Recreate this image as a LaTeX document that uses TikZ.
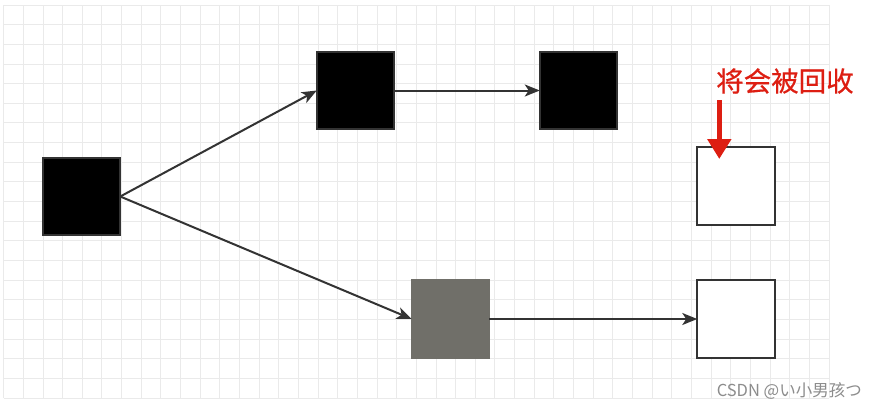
\documentclass[tikz,border=0pt]{standalone}
\usepackage{fontspec}
\newfontfamily\cjk{Noto Sans CJK SC}
\newfontfamily\cjkmed[FakeBold=0.6]{Noto Sans CJK SC}
\usetikzlibrary{arrows.meta}
\definecolor{gridc}{RGB}{234,234,234}
\definecolor{edgec}{RGB}{51,51,51}
\definecolor{greyfill}{RGB}{112,111,105}
\definecolor{redc}{RGB}{221,30,18}
\definecolor{wmc}{RGB}{140,140,140}
\tikzset{
  box/.style={draw=edgec, line width=2pt, minimum size=77.5pt, inner sep=0pt, outer sep=0pt},
  blackbox/.style={box, fill=black},
  greybox/.style={box, draw=greyfill, fill=greyfill},
  whitebox/.style={box, fill=white},
  link/.style={draw=edgec, line width=2pt, -{Stealth[length=15pt,width=12pt,inset=4pt]}},
  redarrow/.style={draw=redc, line width=5.5pt, -{Triangle[length=20pt,width=23pt]}},
}
\begin{document}
\begin{tikzpicture}[x=1pt,y=-1pt]
\useasboundingbox[fill=white] (0,0) rectangle (877,410);
% grid
\foreach \i in {-1,...,41} {
  \draw[gridc, line width=0.9pt] ({23.3+19.65*\i},5) -- ({23.3+19.65*\i},398);
}
\foreach \j in {0,...,20} {
  \draw[gridc, line width=0.9pt] (3.65,{5+19.65*\j}) -- (829,{5+19.65*\j});
}
% nodes
\node[blackbox] (l)  at (81.5,196.5) {};
\node[blackbox] (tm) at (355.5,90.5) {};
\node[blackbox] (tr) at (578.5,90.5) {};
\node[greybox]  (g)  at (450.5,319) {};
\node[whitebox] (wt) at (736,186) {};
\node[whitebox] (wb) at (736,319) {};
% connectors
\draw[link] (l.east) -- (tm.west);
\draw[link] (l.east) -- (g.west);
\draw[link] (tm.east) -- (tr.west);
\draw[link] (g.east) -- (wb.west);
% red label and arrow
\node[text=redc, font=\cjkmed\fontsize{27.5}{27.5}\selectfont, anchor=west, inner sep=0pt] (lab) at (716,81) {将会被回收};
\coordinate (rs) at (719.3,100);
\coordinate (re) at (719.3,159);
\draw[redarrow] (rs) -- (re);
% watermark
\node[text=wmc, font=\cjk\fontsize{16.5}{16.5}\selectfont, anchor=east, inner sep=0pt] (wm) at (862,391) {CSDN @い小男孩つ};
\end{tikzpicture}
\end{document}
